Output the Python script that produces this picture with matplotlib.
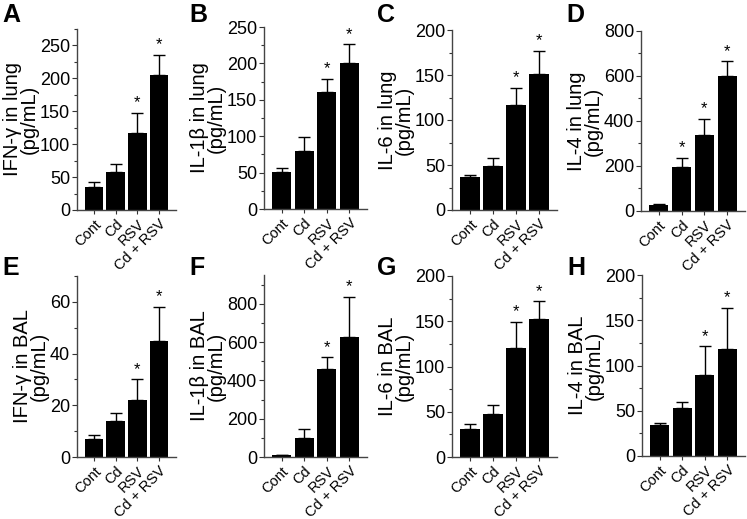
import numpy as np
import matplotlib.pyplot as plt
from matplotlib.ticker import MultipleLocator

plt.rcParams['font.family'] = ['Liberation Sans', 'DejaVu Sans']

groups = ['Cont', 'Cd', 'RSV', 'Cd + RSV']

# lung
ifn_lung = [35, 58, 117, 205]
ifn_lung_err = [8, 12, 30, 31]
il1b_lung = [51, 80, 161, 200]
il1b_lung_err = [6, 19, 18, 26]
il6_lung = [37, 49, 117, 151]
il6_lung_err = [2, 9, 19, 26]
il4_lung = [28, 195, 338, 598]
il4_lung_err = [2, 40, 70, 67]

# BAL
ifn_bal = [7, 14, 22, 45]
ifn_bal_err = [1.5, 3, 8, 13]
il1b_bal = [8, 100, 460, 628]
il1b_bal_err = [0, 48, 60, 207]
il6_bal = [31, 48, 120, 153]
il6_bal_err = [6, 9, 29, 19]
il4_bal = [34, 53, 90, 118]
il4_bal_err = [3, 7, 31, 46]

stars_ab = [False, False, True, True]
stars_d = [False, True, True, True]

W, H = 747, 519
fig = plt.figure(figsize=(W / 100, H / 100), dpi=100)

# (letter, ylabel, values, errors, stars, ymax, major, minor, box px: left, right, top, bottom)
panels = [
    ('A', 'IFN-\u03b3 in lung\n(pg/mL)', ifn_lung, ifn_lung_err, stars_ab, 275, 50, 25, (77, 176, 29, 210)),
    ('B', 'IL-1\u03b2 in lung\n(pg/mL)', il1b_lung, il1b_lung_err, stars_ab, 250, 50, 25, (264, 367, 27, 209)),
    ('C', 'IL-6 in lung\n(pg/mL)', il6_lung, il6_lung_err, stars_ab, 200, 50, 25, (452, 557, 30, 210)),
    ('D', 'IL-4 in lung\n(pg/mL)', il4_lung, il4_lung_err, stars_d, 800, 200, 100, (641, 745, 31, 211)),
    ('E', 'IFN-\u03b3 in BAL\n(pg/mL)', ifn_bal, ifn_bal_err, stars_ab, 70, 20, 10, (77, 176, 276, 457)),
    ('F', 'IL-1\u03b2 in BAL\n(pg/mL)', il1b_bal, il1b_bal_err, stars_ab, 950, 200, 100, (264, 367, 275, 457)),
    ('G', 'IL-6 in BAL\n(pg/mL)', il6_bal, il6_bal_err, stars_ab, 200, 50, 25, (452, 557, 276, 457)),
    ('H', 'IL-4 in BAL\n(pg/mL)', il4_bal, il4_bal_err, stars_ab, 200, 50, 25, (642, 745, 275, 456)),
]

x = np.arange(len(groups))

for letter, ylab, vals, errs, stars, ymax, major, minor, box in panels:
    l, r, t, b = box
    ax = fig.add_axes([l / W, 1 - b / H, (r - l) / W, (b - t) / H])
    ax.bar(x, vals, width=0.85, color='black', zorder=2)
    ax.errorbar(x, vals, yerr=[np.zeros(len(errs)), errs], fmt='none',
                ecolor='black', elinewidth=1, capsize=4, capthick=1, zorder=1)
    for k, s in enumerate(stars):
        if s:
            ax.text(x[k], vals[k] + errs[k] + ymax * 0.015, '*', ha='center',
                    va='bottom', fontsize=12)
    ax.set_xlim(-0.78, 3.78)
    ax.set_ylim(0, ymax)
    ax.yaxis.set_major_locator(MultipleLocator(major))
    ax.yaxis.set_minor_locator(MultipleLocator(minor))
    ax.set_xticks(x)
    ax.set_xticklabels(groups, rotation=45, ha='right', rotation_mode='anchor',
                       fontsize=10.5)
    ax.tick_params(axis='y', labelsize=13, length=3.5, width=0.8, color='#333333', pad=1.5)
    ax.tick_params(axis='y', which='minor', length=2, width=0.8, color='#333333')
    ax.tick_params(axis='x', length=3, width=0.8, color='#333333', pad=2)
    for side in ['top', 'right']:
        ax.spines[side].set_visible(False)
    for side in ['left', 'bottom']:
        ax.spines[side].set_color('#444444')
        ax.spines[side].set_linewidth(1)
    ax.set_ylabel(ylab, fontsize=14.5, labelpad=1, linespacing=0.85)
    fig.text((l - 75) / W, 1 - 3 / H if t < 100 else 1 - 256 / H, letter,
             fontsize=18, fontweight='bold', va='top', ha='left')

plt.savefig('out.png', dpi=100)
